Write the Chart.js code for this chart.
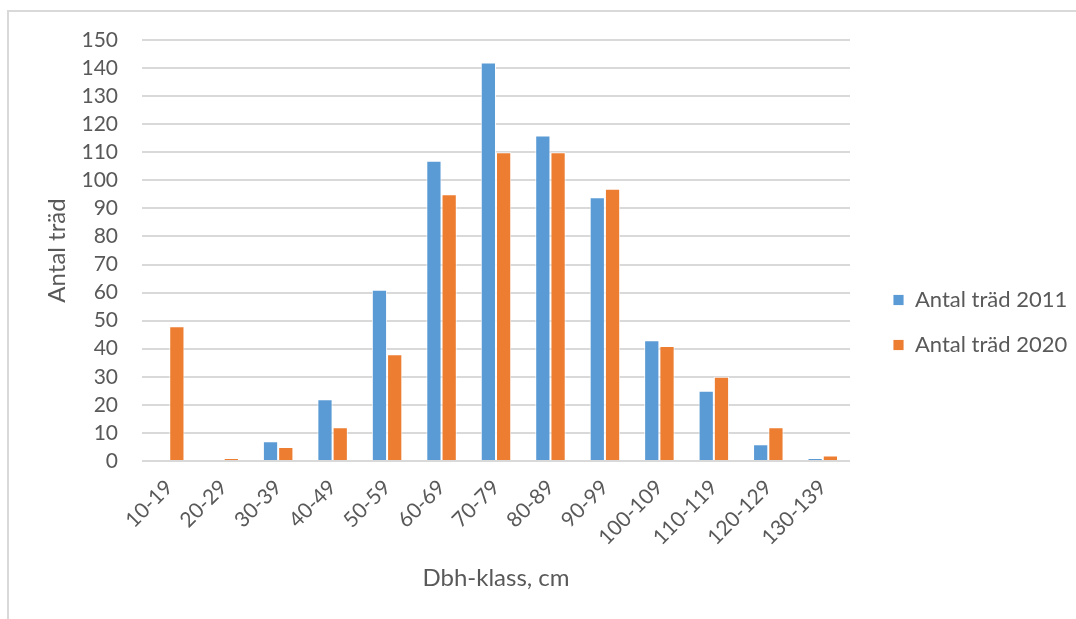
<!DOCTYPE html>
<html>
<head>
<meta charset="utf-8">
<script src="https://cdn.jsdelivr.net/npm/chart.js@4"></script>
<style>
  html, body { margin: 0; padding: 0; background: #ffffff; }
  #wrap { width: 1076px; height: 619px; position: relative; }
</style>
</head>
<body>
<div id="wrap"><canvas id="c" width="1076" height="619"></canvas></div>
<script>
const categories = ["10-19","20-29","30-39","40-49","50-59","60-69","70-79","80-89","90-99","100-109","110-119","120-129","130-139"];
const trees2011 = [0, 0, 7, 22, 61, 107, 142, 116, 94, 43, 25, 6, 1];
const trees2020 = [48, 1, 5, 12, 38, 95, 110, 110, 97, 41, 30, 12, 2];
const seriesNames = ["Antal träd 2011", "Antal träd 2020"];
const yTicks = [0,10,20,30,40,50,60,70,80,90,100,110,120,130,140,150];
const xTitle = "Dbh-klass, cm";
const yTitle = "Antal träd";

const FONT = "Lato";
const TXT = "#595959";
const GRID = "#d9d9d9";

const legPad = 23, boxW = 11, legFont = 22;
const mctx = document.createElement('canvas').getContext('2d');
mctx.font = legFont + "px " + FONT;
const maxText = Math.max(...seriesNames.map(s => mctx.measureText(s).width));
const legendWidth = legPad + boxW + legFont / 2 + maxText + 10;
const plotRight = 850;
const padRight = Math.max(0, 1076 - plotRight - legendWidth);

const borderPlugin = {
  id: 'frame',
  beforeDraw(chart) {
    const ctx = chart.ctx;
    ctx.save();
    ctx.strokeStyle = GRID;
    ctx.lineWidth = 2;
    ctx.beginPath();
    ctx.moveTo(8, 619);
    ctx.lineTo(8, 11);
    ctx.lineTo(1076, 11);
    ctx.stroke();
    ctx.restore();
  },
  afterLayout(chart) {
    const lg = chart.legend;
    if (!lg) return;
    const w = lg.width, h = lg.height;
    lg.left = 870; lg.right = lg.left + w;
    const dy = 6;
    lg.top = chart.chartArea.top + dy; lg.bottom = lg.top + h;
  }
};

new Chart(document.getElementById('c'), {
  type: 'bar',
  data: {
    labels: categories,
    datasets: [
      { label: seriesNames[0], data: trees2011, backgroundColor: '#5b9bd5', borderColor: 'rgba(255,255,255,0.85)', borderWidth: 1, categoryPercentage: 0.56, barPercentage: 1.0 },
      { label: seriesNames[1], data: trees2020, backgroundColor: '#ed7d31', borderColor: 'rgba(255,255,255,0.85)', borderWidth: 1, categoryPercentage: 0.56, barPercentage: 1.0 }
    ]
  },
  options: {
    responsive: false,
    animation: false,
    devicePixelRatio: 1,
    layout: { padding: { left: 43, top: 40, right: padRight, bottom: 26 } },
    plugins: {
      legend: {
        position: 'right',
        align: 'center',
        labels: { font: { family: FONT, size: legFont }, color: TXT, boxWidth: boxW, boxHeight: boxW, padding: legPad }
      },
      tooltip: { enabled: false }
    },
    scales: {
      x: {
        grid: { display: false, drawTicks: false },
        border: { display: false },
        ticks: { autoSkip: false, minRotation: 45, maxRotation: 45, color: TXT, font: { family: FONT, size: 21 }, padding: 14 },
        title: { display: true, text: xTitle, color: TXT, font: { family: FONT, size: 24 }, padding: 0 },
        afterFit(scale) { scale.height = 619 - 26 - 461; }
      },
      y: {
        min: 0, max: 150,
        afterBuildTicks(scale) { scale.ticks = yTicks.map(v => ({ value: v })); },
        grid: { color: GRID, lineWidth: 2, drawTicks: false },
        border: { display: false },
        ticks: { autoSkip: false, color: TXT, font: { family: FONT, size: 21 }, padding: 24 },
        title: { display: true, text: yTitle, color: TXT, font: { family: FONT, size: 24 }, padding: 0 },
        afterFit(scale) { scale.width = 142 - 43; }
      }
    }
  },
  plugins: [borderPlugin]
});
</script>
</body>
</html>
